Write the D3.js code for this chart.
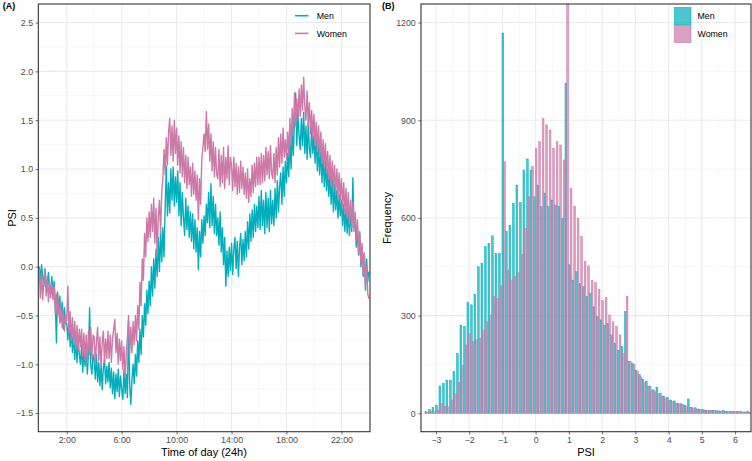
<!DOCTYPE html>
<html><head><meta charset="utf-8">
<script src="https://cdn.jsdelivr.net/npm/d3@7"></script>
<style>body{margin:0;background:#fff}svg{display:block;font-family:"Liberation Sans",Arial,Helvetica,sans-serif}</style>
</head><body><svg id="c" width="752" height="461"></svg>
<script>
// ---------- DATA ----------
const seriesNames = ["Men", "Women"];
const sampleStepHours = 1 / 12; // one reading every 5 minutes, from 0:00 to 24:00
const menPSI = [
 0.0,-0.14,0.02,-0.1,-0.2,-0.02,-0.16,-0.25,-0.06,-0.2,-0.28,-0.1,
 -0.3,-0.15,-0.36,-0.78,-0.26,-0.48,-0.3,-0.56,-0.36,-0.64,-0.42,-0.58,
 -0.58,-0.75,-0.54,-0.82,-0.64,-0.88,-0.68,-0.95,-0.74,-0.98,-0.76,-0.9,
 -1.0,-0.8,-1.08,-0.86,-1.02,-0.82,-1.1,-0.88,-0.42,-1.0,-1.1,-0.9,
 -0.95,-1.15,-0.9,-1.18,-0.98,-1.22,-1.0,-1.26,-1.04,-0.94,-1.2,-1.02,
 -1.18,-0.98,-1.24,-1.04,-1.3,-1.08,-1.35,-1.1,-1.28,-1.05,-1.33,-1.12,
 -1.26,-1.36,-1.05,-1.3,-1.1,-1.34,-0.56,-1.22,-1.41,-1.15,-1.0,-1.2,
 -0.9,-1.12,-0.76,-0.98,-0.64,-0.9,-0.5,-0.72,-0.38,-0.6,-0.24,-0.48,
 -0.15,-0.4,0.0,-0.3,0.08,-0.22,0.18,-0.1,0.3,-0.05,0.36,0.05,
 0.4,0.1,0.6,1.03,0.52,0.86,0.55,1.0,0.68,1.02,0.62,0.92,
 0.66,0.98,0.52,0.86,0.42,0.76,0.5,0.32,0.7,0.38,0.62,0.3,
 0.56,0.26,0.54,0.18,0.48,0.15,0.4,-0.03,0.36,0.1,0.48,0.24,
 0.52,0.32,0.64,0.45,0.76,0.4,0.85,0.42,0.72,0.34,0.64,0.32,
 0.5,0.22,0.56,0.15,0.4,0.02,0.3,-0.2,0.16,-0.1,0.2,-0.04,
 0.24,-0.08,0.18,0.3,-0.02,0.26,-0.1,0.2,0.34,0.02,0.28,0.06,
 0.36,0.1,0.46,0.18,0.54,0.26,0.58,0.3,0.64,0.36,0.62,0.4,
 0.72,0.38,0.78,0.42,0.68,0.34,0.76,0.4,0.7,0.36,0.78,0.44,
 0.68,0.42,0.8,0.5,0.88,0.56,0.82,0.96,0.64,1.02,0.72,1.08,
 0.86,1.16,0.92,1.32,1.0,1.42,1.14,1.52,1.78,1.24,1.62,1.34,
 1.2,1.52,1.24,1.58,1.16,1.44,1.1,1.48,1.2,1.12,1.42,1.16,
 1.34,1.06,1.36,0.98,1.26,0.94,1.22,0.86,1.14,0.82,1.08,0.78,
 1.0,0.72,0.96,0.64,0.9,0.56,0.84,0.58,0.78,0.5,0.74,0.52,
 0.68,0.42,0.64,0.36,0.6,0.34,0.58,0.32,0.56,0.36,0.91,0.4,
 0.46,0.2,0.4,0.12,0.34,0.0,0.2,-0.1,0.14,-0.24,0.08,-0.15,
 -0.05
];
const womenPSI = [
 -0.02,-0.32,-0.08,-0.34,-0.14,-0.04,-0.3,-0.1,-0.36,-0.16,-0.32,-0.18,
 -0.34,-0.2,-0.48,-0.28,-0.52,-0.34,-0.58,-0.4,-0.62,-0.44,-0.66,-0.5,
 -0.56,-0.2,-0.68,-0.46,-0.76,-0.52,-0.8,-0.56,-0.84,-0.6,-0.86,-0.64,
 -0.82,-0.64,-0.92,-0.68,-0.96,-0.7,-0.98,-0.66,-0.9,-0.62,-0.94,-0.7,
 -0.72,-1.0,-0.76,-0.62,-0.96,-0.72,-1.02,-0.78,-0.66,-0.98,-0.74,-0.94,
 -0.66,-0.94,-0.7,-0.98,-0.74,-0.64,-0.54,-0.88,-0.68,-1.0,-0.74,-0.96,
 -0.76,-1.05,-0.82,-1.13,-0.9,-0.72,-0.5,-0.9,-0.62,-0.88,-0.56,-0.8,
 -0.5,-0.76,-0.4,-0.64,-0.16,-0.4,0.08,-0.14,0.34,0.1,0.5,0.26,
 0.56,0.3,0.64,0.36,0.7,0.24,0.6,0.1,0.52,0.68,0.34,0.76,
 0.9,1.2,0.94,1.32,1.04,1.38,1.52,1.14,1.44,1.08,1.5,1.16,
 1.42,1.04,1.34,0.96,1.28,0.92,1.22,0.86,1.14,0.8,1.12,0.84,
 1.02,0.72,1.06,0.74,0.98,0.68,0.94,0.48,0.9,0.64,1.1,1.22,
 1.36,1.18,1.59,1.2,1.46,1.08,1.36,0.98,1.28,0.92,1.22,0.94,
 0.9,1.2,0.82,1.14,0.86,1.22,0.8,1.12,0.9,1.24,0.84,1.12,
 1.04,0.78,1.12,0.82,1.06,0.74,1.02,0.76,1.08,0.8,1.02,0.74,
 0.96,0.7,1.0,0.66,0.9,0.72,1.04,0.76,1.06,0.82,1.12,0.84,
 1.12,0.84,1.16,0.86,1.14,0.88,1.22,0.94,1.18,0.9,1.24,0.96,
 0.9,1.16,0.86,1.22,0.94,1.32,1.02,1.36,1.06,1.42,1.12,1.3,
 1.1,1.38,1.14,1.52,1.24,1.62,1.34,1.78,1.44,1.72,1.5,1.82,
 1.54,1.86,1.6,1.94,1.64,1.5,1.8,1.44,1.68,1.36,1.6,1.32,
 1.56,1.24,1.48,1.18,1.44,1.12,1.38,1.06,1.3,1.02,1.26,0.98,
 1.18,0.9,1.14,0.82,1.08,0.8,1.04,0.74,1.0,0.72,0.96,0.68,
 0.9,0.62,0.86,0.54,0.8,0.5,0.76,0.44,0.68,0.4,0.66,0.36,
 0.56,0.26,0.48,0.14,0.36,0.04,0.24,-0.08,0.14,-0.2,0.0,-0.28,
 -0.33
];
const timeTicks = [2, 6, 10, 14, 18, 22];
const timeTickLabels = ["2:00", "6:00", "10:00", "14:00", "18:00", "22:00"];
const psiLineTicks = [-1.5, -1.0, -0.5, 0.0, 0.5, 1.0, 1.5, 2.0, 2.5];

// histogram: shared PSI bins, bars dodged (Men left half, Women right half)
const binFirstCenter = -3.277, binWidth = 0.1053;
const menCounts = [5,12,18,25,84,92,102,102,128,184,271,266,340,333,366,450,461,512,522,545,491,491,
 1168,
 558,578,645,701,647,747,781,747,665,701,635,676,635,655,640,635,599,
 1014,
 456,409,435,399,389,358,369,327,297,287,271,276,241,215,194,205,
 312,
 159,154,133,
 120,105,99,84,72,80,62,53,49,41,38,31,29,25,44,18,17,13,12,10,9,8,9,7,9,6,5,6,5,5,4,5,3];
const womenCounts = [2,5,5,10,31,22,20,41,61,94,148,210,246,220,227,230,256,281,302,358,353,391,
 773,
 440,410,420,432,488,568,665,758,814,834,906,886,870,814,834,824,778,
 1400,
 691,635,599,543,466,453,409,401,381,346,356,302,281,266,241,184,
 360,
 159,150,130,112,95,83,72,66,61,53,45,39,36,31,29,26,22,18,15,13,12,10,9,9,8,7,7,6,6,5,5,5,4,4,3];
const psiHistTicks = [-3, -2, -1, 0, 1, 2, 3, 4, 5, 6];
const freqTicks = [0, 300, 600, 900, 1200];

// ---------- STYLE ----------
const colMen = "#00AFBB", colWomen = "#CC79A7";
const colors = {Men: colMen, Women: colWomen};
const gridCol = "#EBEBEB", minorCol = "#F3F3F3", textCol = "#4D4D4D", borderCol = "#333333";

const svg = d3.select("#c");

function panel(opts) {
  const {x, y, xTicks, xLabels, yTicks, yFmt, xMinor, yMinor, clipId} = opts;
  const [x0, x1] = x.range(), [y1, y0] = y.range();
  const g = svg.append("g");
  g.append("defs").append("clipPath").attr("id", clipId)
    .append("rect").attr("x", x0).attr("y", y0).attr("width", x1 - x0).attr("height", y1 - y0);
  g.append("rect").attr("x", x0).attr("y", y0).attr("width", x1 - x0).attr("height", y1 - y0).attr("fill", "#fff");
  const grid = g.append("g").attr("clip-path", `url(#${clipId})`);
  grid.selectAll(".vm").data(xMinor).join("line")
    .attr("x1", d => x(d)).attr("x2", d => x(d)).attr("y1", y0).attr("y2", y1)
    .attr("stroke", minorCol).attr("stroke-width", 0.6);
  grid.selectAll(".hm").data(yMinor).join("line")
    .attr("y1", d => y(d)).attr("y2", d => y(d)).attr("x1", x0).attr("x2", x1)
    .attr("stroke", minorCol).attr("stroke-width", 0.6);
  grid.selectAll(".vM").data(xTicks).join("line")
    .attr("x1", d => x(d)).attr("x2", d => x(d)).attr("y1", y0).attr("y2", y1)
    .attr("stroke", gridCol).attr("stroke-width", 1.1);
  grid.selectAll(".hM").data(yTicks).join("line")
    .attr("y1", d => y(d)).attr("y2", d => y(d)).attr("x1", x0).attr("x2", x1)
    .attr("stroke", gridCol).attr("stroke-width", 1.1);
  const marks = g.append("g").attr("clip-path", `url(#${clipId})`);
  const xa = d3.axisBottom(x).tickValues(xTicks).tickFormat((d, i) => xLabels[i]).tickSize(2.75).tickPadding(2.5);
  const ya = d3.axisLeft(y).tickValues(yTicks).tickFormat(yFmt).tickSize(2.75).tickPadding(2.5);
  const gx = g.append("g").attr("transform", `translate(0,${y1})`).call(xa);
  const gy = g.append("g").attr("transform", `translate(${x0},0)`).call(ya);
  [gx, gy].forEach(a => {
    a.select(".domain").remove();
    a.selectAll(".tick line").attr("stroke", borderCol).attr("stroke-width", 0.7);
    a.selectAll(".tick text").attr("fill", textCol).attr("font-size", 8.8)
      .attr("font-family", '"Liberation Sans",Arial,sans-serif');
  });
  const border = g.append("rect").attr("x", x0).attr("y", y0).attr("width", x1 - x0).attr("height", y1 - y0)
    .attr("fill", "none").attr("stroke", borderCol).attr("stroke-width", 1.1);
  return {g, marks, border};
}

// ---------- PANEL A ----------
const xA = d3.scaleLinear().domain([-0.07, 24.08]).range([38.3, 370]);
const yA = d3.scaleLinear().domain([-1.69, 2.69]).range([431.7, 4]);
const pA = panel({
  x: xA, y: yA, xTicks: timeTicks, xLabels: timeTickLabels, yTicks: psiLineTicks,
  yFmt: d3.format(".1f"), xMinor: [0, 4, 8, 12, 16, 20, 24],
  yMinor: [-1.25, -0.75, -0.25, 0.25, 0.75, 1.25, 1.75, 2.25], clipId: "clipA"
});
pA.g.selectAll(".tick text").filter(function(){ return this.textContent.startsWith("-"); })
  .text(function(){ return "\u2212" + this.textContent.slice(1); });
const lineA = d3.line().x((d, i) => xA(i * sampleStepHours)).y(d => yA(d));
[["Men", menPSI], ["Women", womenPSI]].forEach(([name, vals]) => {
  pA.marks.append("path").datum(vals).attr("d", lineA)
    .attr("fill", "none").attr("stroke", colors[name]).attr("stroke-width", 1.4)
    .attr("stroke-linejoin", "round");
});
pA.border.raise();

const legA = svg.append("g");
seriesNames.forEach((n, i) => {
  const cy = 15.7 + i * 17.7;
  legA.append("line").attr("x1", 295).attr("x2", 308.5).attr("y1", cy).attr("y2", cy)
    .attr("stroke", colors[n]).attr("stroke-width", 1.6);
  legA.append("text").attr("x", 316.7).attr("y", cy + 3.2).attr("font-size", 8.8).attr("fill", "#000").text(n);
});

// ---------- PANEL B ----------
const xB = d3.scaleLinear().domain([-3.45, 6.48]).range([421, 751]);
const yB = d3.scaleLinear().domain([-56.5, 1257]).range([431.7, 4]);
const pB = panel({
  x: xB, y: yB, xTicks: psiHistTicks, xLabels: psiHistTicks.map(d => d < 0 ? "\u2212" + Math.abs(d) : String(d)),
  yTicks: freqTicks, yFmt: d3.format("d"),
  xMinor: [-2.5, -1.5, -0.5, 0.5, 1.5, 2.5, 3.5, 4.5, 5.5],
  yMinor: [150, 450, 750, 1050], clipId: "clipB"
});
function drawHist(counts, slot, col) {
  const lo = i => binFirstCenter + i * binWidth - binWidth / 2 + slot * binWidth / 2;
  pB.marks.append("g").selectAll("rect").data(counts).join("rect")
    .attr("x", (d, i) => xB(lo(i)))
    .attr("width", (d, i) => xB(lo(i) + binWidth / 2) - xB(lo(i)))
    .attr("y", d => yB(d))
    .attr("height", d => yB(0) - yB(d))
    .attr("fill", col).attr("fill-opacity", 0.7)
    .attr("stroke", col).attr("stroke-width", 0.5);
}
drawHist(menCounts, 0, colMen);
drawHist(womenCounts, 1, colWomen);
pB.border.raise();

const legB = svg.append("g");
seriesNames.forEach((n, i) => {
  const top = 7.5 + i * 17.8;
  legB.append("rect").attr("x", 674.5).attr("y", top).attr("width", 16.5).attr("height", 17.3)
    .attr("fill", colors[n]).attr("fill-opacity", 0.7).attr("stroke", colors[n]).attr("stroke-width", 0.6);
  legB.append("text").attr("x", 697.5).attr("y", top + 8.7 + 3.2).attr("font-size", 8.8).attr("fill", "#000").text(n);
});

// ---------- TITLES ----------
const t = svg.append("g").attr("fill", "#000");
t.append("text").attr("x", 2.7).attr("y", 9).attr("font-size", 9).attr("font-weight", "bold").text("(A)");
t.append("text").attr("x", 382).attr("y", 9).attr("font-size", 9).attr("font-weight", "bold").text("(B)");
t.append("text").attr("x", 204).attr("y", 455.5).attr("text-anchor", "middle").attr("font-size", 11).text("Time of day (24h)");
t.append("text").attr("x", 586).attr("y", 455.5).attr("text-anchor", "middle").attr("font-size", 11).text("PSI");
t.append("text").attr("transform", "translate(15.5,218) rotate(-90)").attr("text-anchor", "middle").attr("font-size", 11).text("PSI");
t.append("text").attr("transform", "translate(390.5,218) rotate(-90)").attr("text-anchor", "middle").attr("font-size", 11).text("Frequency");
</script>
</body></html>
